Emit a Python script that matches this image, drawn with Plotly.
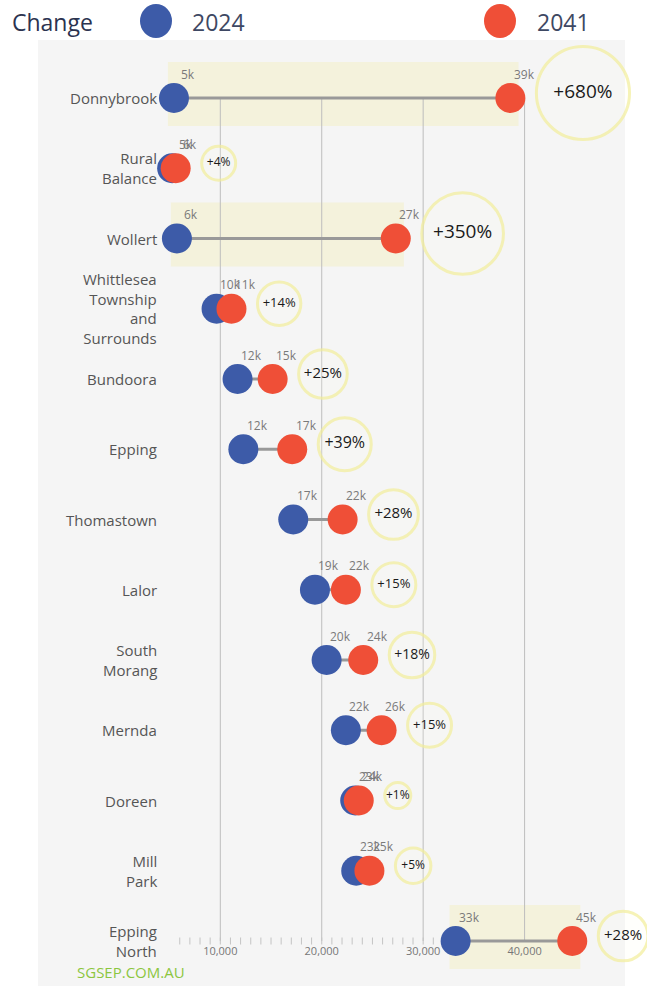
import plotly.graph_objects as go

# ---- data -------------------------------------------------------------
suburbs = [
    "Donnybrook", "Rural<br>Balance", "Wollert",
    "Whittlesea<br>Township<br>and<br>Surrounds", "Bundoora", "Epping",
    "Thomastown", "Lalor", "South<br>Morang", "Mernda", "Doreen",
    "Mill<br>Park", "Epping<br>North",
]
pop_2024 = [5430, 5250, 5720, 9630, 11700, 12270, 17190, 19330, 20480,
            22380, 23300, 23400, 33200]
pop_2041 = [38600, 5600, 27300, 11100, 15160, 17090, 22060, 22380, 24090,
            25900, 23650, 24700, 44700]
change_pct = [680, 4, 350, 14, 25, 39, 28, 15, 18, 15, 1, 5, 28]
x_ticks = [10000, 20000, 30000, 40000]

# ---- styling / geometry ------------------------------------------------
W, H = 647, 986
PANEL_L, PANEL_R, PANEL_T, PANEL_B = 38, 625, 40, 986   # grey panel
FIRST_ROW_PX, LAST_ROW_PX = 98, 941                     # row centres
X_RANGE = [-7975, 49900]
PLOT_W = PANEL_R - PANEL_L
PLOT_H = PANEL_B - PANEL_T
PX_PER_UNIT = PLOT_W / (X_RANGE[1] - X_RANGE[0])
ROW_PX = (LAST_ROW_PX - FIRST_ROW_PX) / (len(suburbs) - 1)
Y_RANGE = [len(suburbs) - 1 + (PANEL_B - LAST_ROW_PX) / ROW_PX,
           -(FIRST_ROW_PX - PANEL_T) / ROW_PX]

BLUE = "#3d5ba8"
RED = "#ef4f37"
RING = "#f3ee9a"
BAND = "#f4f2dc"
GRID = "#bdbdbd"
FONT = "Open Sans"
DOT = 30


def px_x(px):
    """Pixel column in the page -> paper x."""
    return (px - PANEL_L) / PLOT_W


def px_y(py):
    """Pixel row in the page -> paper y."""
    return (PANEL_B - py) / PLOT_H


rows = list(range(len(suburbs)))
last = rows[-1]

# change ring diameter grows with the percentage change
ring_d = [26 + 25 * (p ** 0.2 - 1) for p in change_pct]
ring_x = [v + (DOT / 2 + 11 + d / 2) / PX_PER_UNIT
          for v, d in zip(pop_2041, ring_d)]
ring_y = [r - 5 / ROW_PX for r in rows]
ring_font = [min(19, max(12, round(d * 0.3))) for d in ring_d]

fig = go.Figure()

# connectors
cx, cy = [], []
for r, a, b in zip(rows, pop_2024, pop_2041):
    cx += [a, b, None]
    cy += [r, r, None]
fig.add_trace(go.Scatter(x=cx, y=cy, mode="lines",
                         line=dict(color="#999999", width=3),
                         hoverinfo="skip", cliponaxis=False))

# minor axis ticks along the bottom row
minor = list(range(6000, 31001, 1000))
fig.add_trace(go.Scatter(
    x=minor, y=[last] * len(minor), mode="markers",
    marker=dict(symbol="line-ns", size=5,
                line=dict(width=1, color="#c4c4c4")),
    hoverinfo="skip", cliponaxis=False))

# axis tick labels under the bottom row
fig.add_trace(go.Scatter(
    x=x_ticks, y=[last + 11 / ROW_PX] * len(x_ticks), mode="text",
    text=[f"{t:,}" for t in x_ticks],
    textfont=dict(family=FONT, size=11, color="#777777"),
    hoverinfo="skip", cliponaxis=False))

# change rings
fig.add_trace(go.Scatter(
    x=ring_x, y=ring_y, mode="markers",
    marker=dict(size=ring_d, color="rgba(255,255,245,0.25)",
                line=dict(color=RING, width=3)),
    hoverinfo="skip", cliponaxis=False))

# 2024 / 2041 dots
fig.add_trace(go.Scatter(x=pop_2024, y=rows, mode="markers",
                         marker=dict(size=DOT, color=BLUE), name="2024",
                         cliponaxis=False))
fig.add_trace(go.Scatter(x=pop_2041, y=rows, mode="markers",
                         marker=dict(size=DOT, color=RED), name="2041",
                         cliponaxis=False))

# percentage text inside rings
fig.add_trace(go.Scatter(
    x=ring_x, y=ring_y, mode="text",
    text=[f"+{p}%" for p in change_pct],
    textfont=dict(family=FONT, size=ring_font, color="#1a1a1a"),
    hoverinfo="skip", cliponaxis=False))

shapes = []
annotations = []

# highlight band for large absolute growth
for r, a, b in zip(rows, pop_2024, pop_2041):
    if b - a >= 10000:
        shapes.append(dict(type="rect", xref="x", yref="y",
                           x0=a - 600, x1=b + 800,
                           y0=r - 36 / ROW_PX, y1=r + 28 / ROW_PX,
                           fillcolor=BAND, line=dict(width=0),
                           layer="below"))

# vertical grid lines spanning the first to the last row
for t in x_ticks:
    shapes.append(dict(type="line", xref="x", yref="y",
                       x0=t, x1=t, y0=rows[0], y1=last,
                       line=dict(color=GRID, width=1), layer="below"))

# suburb names
for r, name in zip(rows, suburbs):
    annotations.append(dict(
        x=px_x(159), xref="paper", y=r, yref="y", text=name,
        xanchor="right", yanchor="middle", align="right", showarrow=False,
        font=dict(family=FONT, size=15, color="#555555")))

# value labels above each dot
for series in (pop_2024, pop_2041):
    for r, v in zip(rows, series):
        annotations.append(dict(
            x=v, y=r, xref="x", yref="y", text=f"{int(v / 1000 + 0.5)}k",
            xshift=14, yshift=24, showarrow=False,
            font=dict(family=FONT, size=12, color="#7a7a7a")))

# legend header
annotations += [
    dict(x=px_x(10), y=px_y(22), xref="paper", yref="paper", text="Change",
         xanchor="left", yanchor="middle", showarrow=False,
         font=dict(family=FONT, size=23, color="#2b3350")),
    dict(x=px_x(190), y=px_y(22), xref="paper", yref="paper", text="2024",
         xanchor="left", yanchor="middle", showarrow=False,
         font=dict(family=FONT, size=23, color="#3e4863")),
    dict(x=px_x(535), y=px_y(22), xref="paper", yref="paper", text="2041",
         xanchor="left", yanchor="middle", showarrow=False,
         font=dict(family=FONT, size=23, color="#3e4863")),
    dict(x=px_x(75), y=px_y(972), xref="paper", yref="paper",
         text="SGSEP.COM.AU", xanchor="left", yanchor="middle",
         showarrow=False,
         font=dict(family=FONT, size=15, color="#8cc63f")),
]
for cxp, col in ((156, BLUE), (500, RED)):
    shapes.append(dict(type="circle", xref="paper", yref="paper",
                       xsizemode="pixel", ysizemode="pixel",
                       xanchor=px_x(cxp), yanchor=px_y(21),
                       x0=-16, x1=16, y0=-17, y1=17,
                       fillcolor=col, line=dict(width=0)))

fig.update_layout(
    width=W, height=H,
    margin=dict(l=PANEL_L, r=W - PANEL_R, t=PANEL_T, b=H - PANEL_B),
    paper_bgcolor="white", plot_bgcolor="#f5f5f5",
    showlegend=False,
    shapes=shapes, annotations=annotations,
    xaxis=dict(range=X_RANGE, showgrid=False, zeroline=False,
               showline=False, ticks="", showticklabels=False,
               fixedrange=True),
    yaxis=dict(range=Y_RANGE, showgrid=False, zeroline=False,
               showticklabels=False, showline=False, fixedrange=True),
    font=dict(family=FONT),
)

fig.write_html("out.html")
